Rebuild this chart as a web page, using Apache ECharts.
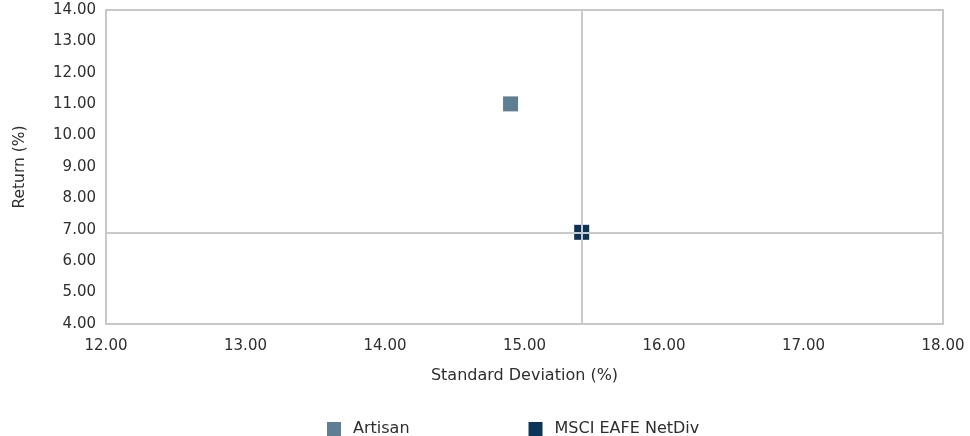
<!DOCTYPE html>
<html><head><meta charset="utf-8">
<script src="https://cdn.jsdelivr.net/npm/echarts@6/dist/echarts.min.js"></script>
<style>html,body{margin:0;padding:0;background:#fff}#c{width:970px;height:436px}</style>
</head><body><div id="c"></div>
<script>
const seriesNames = ['Artisan', 'MSCI EAFE NetDiv'];
const stdDev = [14.90, 15.41];
const returns = [11.01, 6.92];
const colors = ['#5e7f93', '#0b3558'];
const xRange = [12, 18];
const yRange = [4, 14];
const fontFam = '"DejaVu Sans", sans-serif';
const txt = '#2e2e2e';

const chart = echarts.init(document.getElementById('c'), null, {renderer: 'canvas'});
const series = seriesNames.map((n, i) => {
  const s = {
    name: n, type: 'scatter', symbol: 'rect', symbolSize: 15,
    itemStyle: {color: colors[i], opacity: 1},
    data: [[stdDev[i], returns[i]]],
    z: 2
  };
  if (i === 1) {
    s.markLine = {
      silent: true, symbol: 'none', label: {show: false}, z: 5,
      lineStyle: {color: '#cacaca', width: 2, type: 'solid', opacity: 1},
      data: [{xAxis: stdDev[i]}, {yAxis: returns[i]}]
    };
  }
  return s;
});
chart.setOption({
  animation: false,
  textStyle: {fontFamily: fontFam},
  grid: {left: 106, right: 27, top: 10, bottom: 112, show: true, borderColor: '#c8c8c8', borderWidth: 2},
  xAxis: {
    type: 'value', min: xRange[0], max: xRange[1], interval: 1,
    name: 'Standard Deviation (%)', nameLocation: 'middle', nameGap: 44,
    nameTextStyle: {color: txt, fontSize: 16, fontFamily: fontFam},
    axisLine: {show: false}, axisTick: {show: false}, splitLine: {show: false},
    axisLabel: {color: txt, fontSize: 15, margin: 15, formatter: v => v.toFixed(2), fontFamily: fontFam}
  },
  yAxis: {
    type: 'value', min: yRange[0], max: yRange[1], interval: 1,
    name: 'Return (%)', nameLocation: 'middle', nameGap: 78, nameRotate: 90,
    nameTextStyle: {color: txt, fontSize: 15.5, fontFamily: fontFam},
    axisLine: {show: false}, axisTick: {show: false}, splitLine: {show: false},
    axisLabel: {color: txt, fontSize: 15, margin: 10, formatter: v => v.toFixed(2), fontFamily: fontFam}
  },
  legend: {
    top: 416, left: 322, itemWidth: 14, itemHeight: 14, itemGap: 119, icon: 'rect',
    textStyle: {color: txt, fontSize: 16, fontFamily: fontFam, padding: [0, 0, 0, 7]},
    data: seriesNames
  },
  series: series
});
</script></body></html>
